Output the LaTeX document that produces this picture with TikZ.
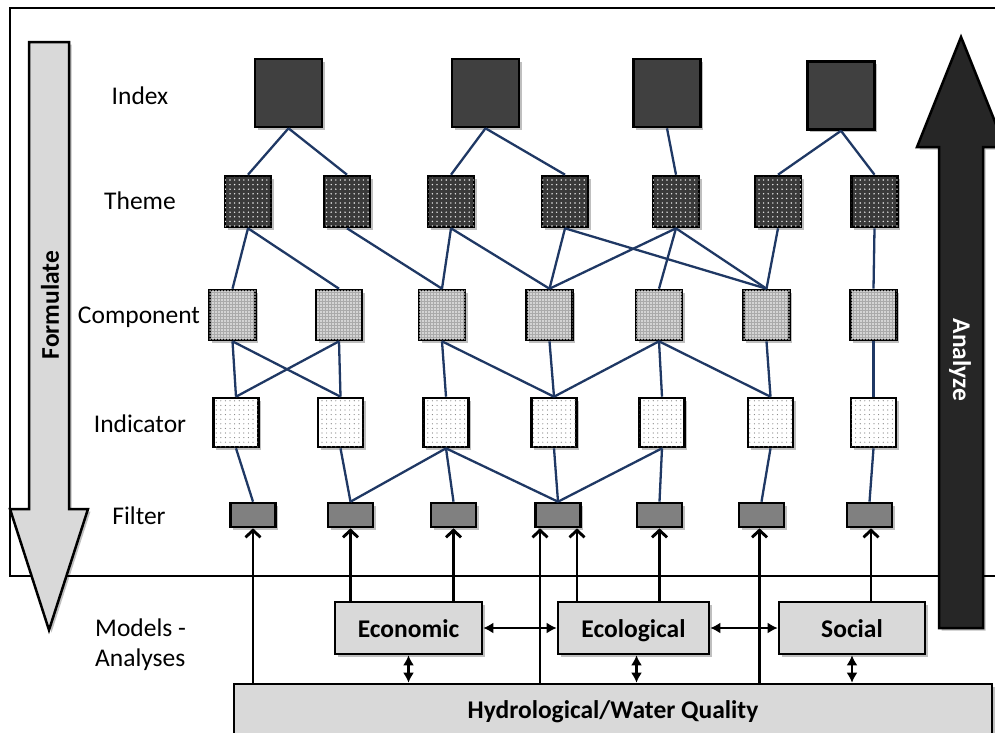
\documentclass[tikz,border=0pt]{standalone}
\usepackage{fontspec}
\setmainfont{Carlito}
\usetikzlibrary{arrows.meta,shadows,patterns.meta,calc}

\definecolor{navy}{RGB}{31,56,100}
\definecolor{idxgray}{RGB}{64,64,64}
\definecolor{themegray}{RGB}{58,58,58}
\definecolor{compgray}{RGB}{170,170,170}
\definecolor{filtgray}{RGB}{128,128,128}
\definecolor{modgray}{RGB}{217,217,217}
\definecolor{anagray}{RGB}{38,38,38}

\tikzset{
  box/.style={draw=black, line width=2.6pt, inner sep=0pt,
    drop shadow={shadow xshift=2.5pt, shadow yshift=-2.5pt, fill=black, opacity=0.25}},
  idxbox/.style={box, fill=idxgray, minimum width=67pt, minimum height=68pt},
  themebox/.style={box, fill=themegray, minimum width=46pt, minimum height=51pt,
    postaction={pattern={Dots[distance=4.6pt,radius=0.8pt]}, pattern color=white!85!gray}},
  compbox/.style={box, fill=compgray, minimum width=46pt, minimum height=50pt,
    postaction={pattern={Dots[distance=3pt,radius=0.8pt]}, pattern color=white}},
  indbox/.style={box, fill=white, minimum width=45pt, minimum height=49pt,
    postaction={pattern={Dots[distance=4.6pt,radius=0.6pt]}, pattern color=gray}},
  filtbox/.style={box, fill=filtgray, minimum width=45pt, minimum height=24pt},
  modbox/.style={box, fill=modgray, minimum height=52pt, text height=20pt, text depth=2pt,
    font=\fontsize{25.5}{30}\selectfont\bfseries},
  lbl/.style={font=\fontsize{25.5}{30}\selectfont, inner sep=0pt},
  link/.style={draw=navy, line width=2.3pt},
  feed/.style={draw=black, line width=2.9pt,
    -{Straight Barb[length=7pt,width=15pt,line width=2.9pt]}},
  both/.style={draw=black, line width=2.9pt,
    {Latex[length=10pt,width=11pt]}-{Latex[length=10pt,width=11pt]}},
  bigarrow/.style={draw=black, line width=2.5pt, line join=miter,
    drop shadow={shadow xshift=2.5pt, shadow yshift=-2.5pt, fill=black, opacity=0.25}},
}

\begin{document}
\begin{tikzpicture}[x=1pt,y=-1pt]
\useasboundingbox (0,0) rectangle (995,732);
\begin{scope}
\clip (0,0) rectangle (995,732);

% outer frame of the indicator hierarchy
\draw[line width=2.6pt] (10,8) rectangle (1012,576);

% level labels
\node[lbl] (lindex) at (140,96) {Index};
\node[lbl] (ltheme) at (140,201) {Theme};
\node[lbl] (lcomp) at (139,317) {Component};
\node[lbl] (lind) at (140,424) {Indicator};
\node[lbl] (lfilt) at (139,516) {Filter};
\node[lbl, align=left, anchor=west] (lmod) at (95,645) {Models -\\Analyses};

% index level
\node[idxbox] (x1) at (288.5,93) {};
\node[idxbox] (x2) at (485.5,93) {};
\node[idxbox] (x3) at (667,93) {};
\node[idxbox] (x4) at (841,95.5) {};

% theme level
\foreach \n/\x in {1/248,2/347,3/451,4/565,5/676,6/778,7/874.5}
  \node[themebox] (t\n) at (\x,201.5) {};

% component level
\foreach \n/\x in {1/232.5,2/339,3/442,4/549.5,5/659,6/766.5,7/873.5}
  \node[compbox] (c\n) at (\x,315) {};

% indicator level
\foreach \n/\x in {1/236,2/340.5,3/446,4/554,5/662,6/770.5,7/873.5}
  \node[indbox] (i\n) at (\x,422.5) {};

% filter level
\foreach \n/\x in {1/253,2/350.5,3/453.5,4/558,5/659.5,6/761.5,7/869.5}
  \node[filtbox] (f\n) at (\x,515) {};

% links between levels
\foreach \a/\b in {x1/t1,x1/t2,x2/t3,x2/t4,x3/t5,x4/t6,x4/t7,
                   t1/c1,t1/c2,t2/c3,t3/c3,t3/c4,t4/c4,t4/c6,t5/c4,t5/c5,t5/c6,t6/c6,t7/c7,
                   c1/i1,c1/i2,c2/i1,c2/i2,c3/i3,c3/i4,c4/i4,c5/i4,c5/i5,c5/i6,c6/i6,c7/i7,
                   i1/f1,i2/f2,i3/f2,i3/f3,i3/f4,i4/f4,i5/f4,i5/f5,i6/f6,i7/f7}
  \draw[link] (\a.south) -- (\b.north);

% models
\node[modbox, minimum width=147pt] (econ) at (408.5,628) {Economic};
\node[modbox, minimum width=151pt] (ecol) at (633.5,628) {Ecological};
\node[modbox, minimum width=146pt] (soc) at (852,628) {Social};
\node[modbox, minimum width=758pt, minimum height=60pt] (hyd) at (613,714) {};
\node[lbl, font=\fontsize{25.5}{30}\selectfont\bfseries] (hydtxt) at (613,712) {Hydrological/Water Quality};

% model outputs feeding the filters
\draw[feed] (hyd.north -| f1) -- (f1.south);
\draw[feed] (econ.north -| f2) -- (f2.south);
\draw[feed] (econ.north -| f3) -- (f3.south);
\draw[feed] ($(hyd.north -| f4)+(-18,0)$) -- ($(f4.south)+(-18,0)$);
\draw[feed] ($(ecol.north -| f4)+(19,0)$) -- ($(f4.south)+(19,0)$);
\draw[feed] (ecol.north -| f5) -- (f5.south);
\draw[feed] ($(hyd.north -| f6)+(-2,0)$) -- ($(f6.south)+(-2,0)$);
\draw[feed] ($(soc.north -| f7)+(1.5,0)$) -- ($(f7.south)+(1.5,0)$);

% exchanges between models
\draw[both] (econ.east) -- (ecol.west);
\draw[both] (ecol.east) -- (soc.west);
\draw[both] (econ.south) -- (econ.south |- hyd.north);
\draw[both] ($(ecol.south)+(3,0)$) -- ($(ecol.south |- hyd.north)+(3,0)$);
\draw[both] (soc.south) -- (soc.south |- hyd.north);

% Formulate arrow (downwards)
\draw[bigarrow, fill=modgray] (29,42) -- (69,42) -- (69,509) -- (88,509) -- (49,630)
  -- (10,509) -- (29,509) -- cycle;
\node[lbl, font=\fontsize{25.5}{30}\selectfont\bfseries, rotate=90] (form) at (50,305) {Formulate};

% Analyze arrow (upwards)
\draw[bigarrow, fill=anagray] (939,628) -- (939,147) -- (917,147) -- (961,37) -- (1005,147)
  -- (983,147) -- (983,628) -- cycle;
\node[lbl, font=\fontsize{25.5}{30}\selectfont\bfseries, text=white, rotate=-90] (ana) at (960,360) {Analyze};
\end{scope}
\end{tikzpicture}
\end{document}
